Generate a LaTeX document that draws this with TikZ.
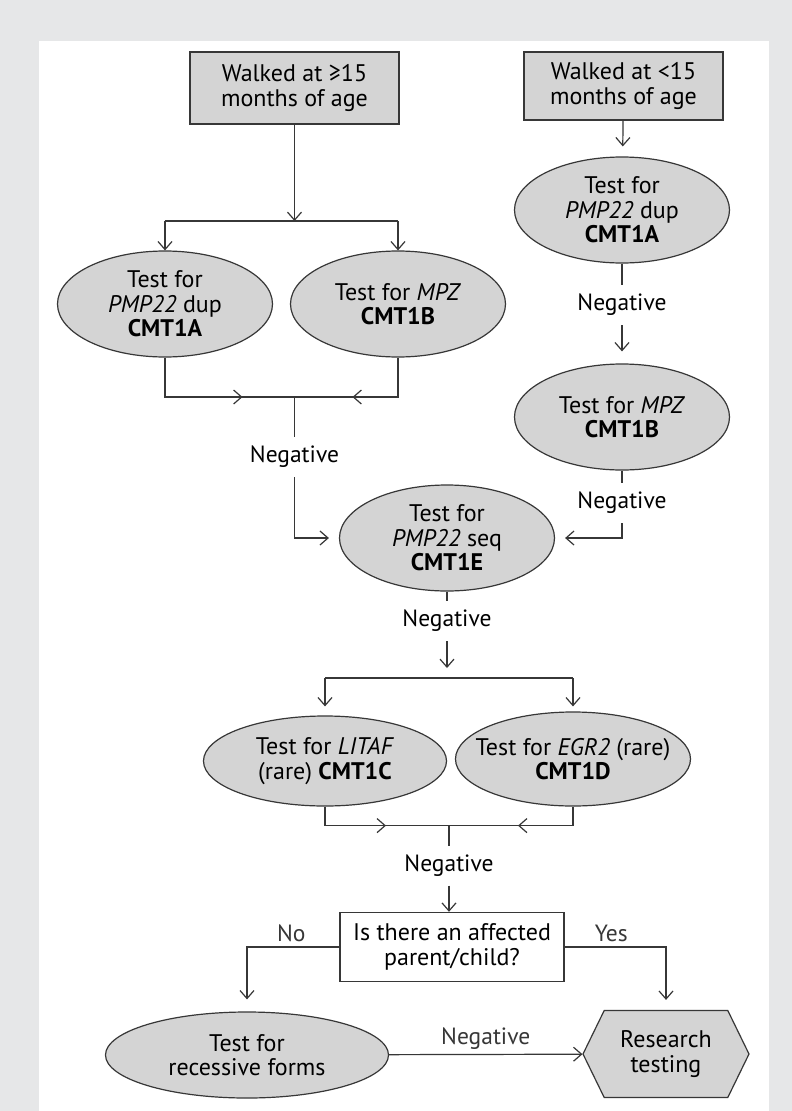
\documentclass[tikz,border=0pt]{standalone}
\usepackage{fontspec}
\setmainfont{PT Sans}
\usepackage{tikz}
\usetikzlibrary{shapes.geometric, shapes.symbols, arrows.meta, calc}
\definecolor{pagegray}{RGB}{230,231,232}
\definecolor{boxgray}{RGB}{212,212,212}
\definecolor{edgegray}{RGB}{55,55,55}
\tikzstyle{line} = [draw, edgegray, line width=1.2pt, -{Straight Barb[length=8pt, width=14pt]}]
\tikzstyle{startbox} = [rectangle, draw=edgegray, line width=1.4pt, fill=boxgray, align=center, minimum width=209pt, minimum height=72pt, inner sep=2pt, font=\fontsize{24}{24.5}\selectfont]
\tikzstyle{testell} = [ellipse, draw=edgegray, line width=1.2pt, fill=boxgray, align=center, minimum width=215pt, minimum height=106pt, inner xsep=-22pt, inner ysep=-6pt, font=\fontsize{24}{24.5}\selectfont]
\tikzstyle{askbox} = [rectangle, draw=edgegray, line width=1.4pt, fill=white, align=center, minimum width=224pt, minimum height=69pt, inner sep=1pt, font=\fontsize{24}{24.5}\selectfont]
\tikzstyle{resbox} = [signal, signal to=west and east, signal pointer angle=128, draw=edgegray, line width=1.2pt, fill=boxgray, align=center, minimum width=166pt, minimum height=87pt, inner sep=0pt, font=\fontsize{24}{24.5}\selectfont]
\tikzstyle{neg} = [inner xsep=4pt, inner ysep=9pt, font=\fontsize{23.5}{24.5}\selectfont]
\tikzstyle{lbl} = [inner sep=3pt, font=\fontsize{23.5}{24.5}\selectfont]
\pgfdeclarelayer{background}
\pgfsetlayers{background,main}

\begin{document}
\begin{tikzpicture}
		\node[startbox](wk1){Walked at ≥15\\months of age};
		\node[startbox, right of=wk1, node distance=329pt, yshift=2pt, minimum width=199pt, minimum height=68pt](wk2){Walked at <15\\months of age};
		
		% left branch
		\node[testell, below of=wk1, node distance=216pt, xshift=-129.5pt](a1){Test for\\\textit{PMP22} dup\\\textbf{CMT1A}};
		\node[testell, right of=a1, node distance=233pt](b1){Test for \textit{MPZ}\\\textbf{CMT1B}};
		\coordinate[below of=wk1, node distance=133pt] (s1);
		\path [line] (wk1) to (s1);
		\draw[edgegray, line width=1.2pt] (a1 |- s1) -- (b1 |- s1);
		\path [line] (a1 |- s1) to (a1);
		\path [line] (b1 |- s1) to (b1);
		
		\coordinate[below of=s1, node distance=176pt] (j1);
		\coordinate[left of=j1, node distance=52pt] (j1l);
		\coordinate[right of=j1, node distance=58pt] (j1r);
		\draw[edgegray, line width=1.2pt] (a1.south) |- (j1) -| (b1.south);
		\path [line] (a1 |- j1) to (j1l);
		\path [line] (b1 |- j1) to (j1r);
		\node[neg, below of=j1, node distance=60pt](n1){Negative};
		\draw[edgegray, line width=1.2pt] (j1) -- (n1);
		
		% right branch
		\node[testell, below of=wk2, node distance=124pt, xshift=-1.5pt](a2){Test for\\\textit{PMP22} dup\\\textbf{CMT1A}};
		\path [line, shorten >=10pt] (wk2) to (a2);
		\node[neg, below of=a2, node distance=95pt](n2){Negative};
		\draw[edgegray, line width=1.2pt] (a2) -- (n2);
		\node[testell, below of=a2, node distance=207pt](b2){Test for \textit{MPZ}\\\textbf{CMT1B}};
		\path [line, shorten >=12pt] (n2) to (b2);
		\node[neg, below of=b2, node distance=86pt](n3){Negative};
		\draw[edgegray, line width=1.2pt] (b2) -- (n3);
		
		% both meet
		\node[testell, below of=b1, node distance=234pt, xshift=49pt](seq){Test for\\\textit{PMP22} seq\\\textbf{CMT1E}};
		\path [line, shorten >=10pt] (n1) |- (seq);
		\path [line, shorten >=10pt] (n3) |- (seq);
		\node[neg, below of=seq, node distance=83pt](n4){Negative};
		\draw[edgegray, line width=1.2pt] (seq) -- (n4);
		\coordinate[below of=n4, node distance=47pt] (s3);
		\path [line] (n4) to (s3);
		
		\node[testell, below of=seq, node distance=223pt, xshift=-122pt, minimum width=243pt, minimum height=90pt](c){Test for \textit{LITAF}\\(rare) \textbf{CMT1C}};
		\node[testell, right of=c, node distance=248pt, yshift=2pt, minimum width=235pt, minimum height=94pt](d){Test for \textit{EGR2} (rare)\\\textbf{CMT1D}};
		\coordinate[below of=s3, node distance=10pt] (s3b);
		\draw[edgegray, line width=1.2pt] (c |- s3b) -- (d |- s3b);
		\path [line, shorten >=9pt] (c |- s3b) to (c);
		\path [line, shorten >=5pt] (d |- s3b) to (d);
		
		\coordinate (j3) at ($(c.south)!0.5!(d.south)+(0,-19pt)$);
		\coordinate[left of=j3, node distance=63pt] (j3l);
		\coordinate[right of=j3, node distance=69pt] (j3r);
		\draw[edgegray, line width=1.2pt] (c.south) |- (j3) -| (d.south);
		\path [line] (c |- j3) to (j3l);
		\path [line] (d |- j3) to (j3r);
		\node[neg, below of=j3, node distance=40pt](n5){Negative};
		\draw[edgegray, line width=1.2pt] (j3) -- (n5);
		
		% question
		\node[askbox, below of=seq, node distance=409pt, xshift=5pt](ask){Is there an affected\\parent/child?};
		\path [line] (n5) to (n5 |- ask.north);
		\node[testell, below of=ask, node distance=108pt, xshift=-205pt, minimum width=283pt, minimum height=86pt](rec){Test for\\recessive forms};
		\node[resbox, right of=rec, node distance=419pt, yshift=1pt](res){Research\\testing};
		\path [line, shorten >=12pt] (ask.west) -| node[lbl, pos=0.26, above=2pt] (no) {No} (rec);
		\path [line, shorten >=10pt] (ask.east) -| node[lbl, pos=0.23, above=2pt] (yes) {Yes} (res);
		\path [line] (rec) to node[lbl, above=1pt] (n6) {Negative} (res);
		
		\begin{pgfonlayer}{background}
		\fill[pagegray] (-294.5pt,88pt) rectangle (497.5pt,-1023pt);
		\fill[white] (-255.5pt,47pt) rectangle (474.5pt,-1023pt);
		\end{pgfonlayer}
\end{tikzpicture}
\end{document}
